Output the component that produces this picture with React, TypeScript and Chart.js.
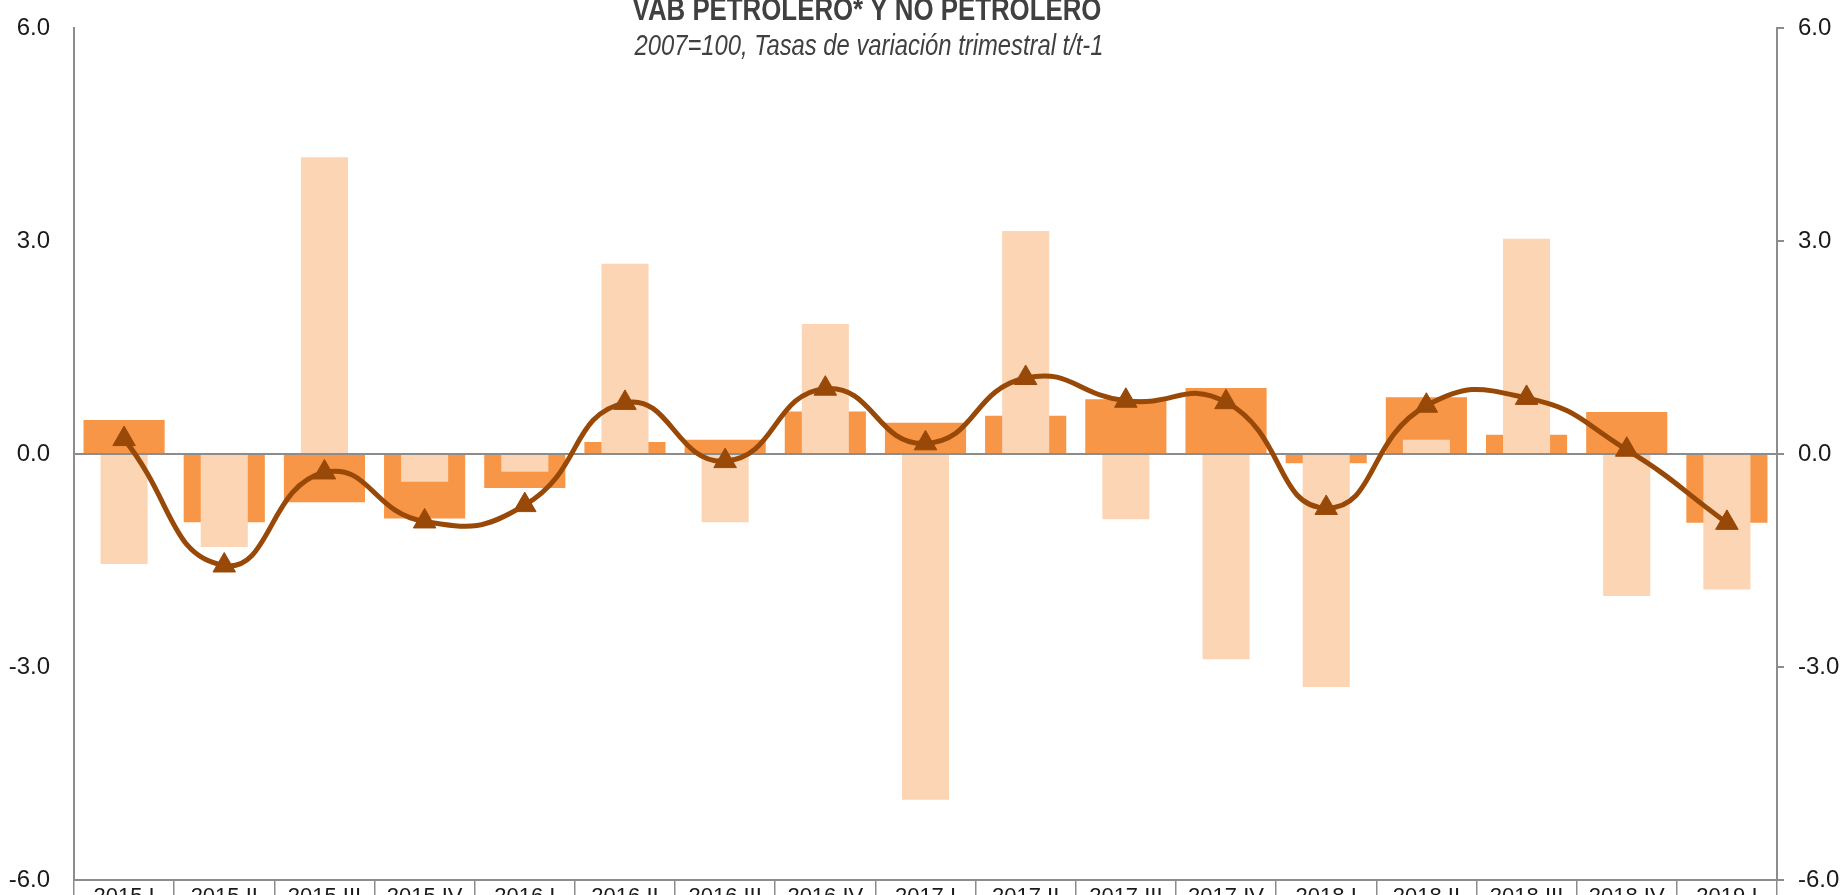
import React, { useEffect, useRef } from "react";
import { Chart, registerables } from "chart.js";

Chart.register(...registerables);

const categories = [
  "2015.I", "2015.II", "2015.III", "2015.IV",
  "2016.I", "2016.II", "2016.III", "2016.IV",
  "2017.I", "2017.II", "2017.III", "2017.IV",
  "2018.I", "2018.II", "2018.III", "2018.IV",
  "2019.I",
];

// VAB no petrolero (wide, dark orange)
const noPetrolero = [0.48, -0.96, -0.68, -0.91, -0.48, 0.17, 0.2, 0.6, 0.44, 0.54, 0.77, 0.93, -0.13, 0.8, 0.27, 0.59, -0.97];
// VAB petrolero (narrow, light)
const petrolero = [-1.55, -1.31, 4.18, -0.39, -0.25, 2.68, -0.96, 1.83, -4.87, 3.14, -0.92, -2.89, -3.28, 0.2, 3.03, -2.0, -1.91];
// VAB total (line)
const total = [0.21, -1.57, -0.26, -0.95, -0.72, 0.72, -0.1, 0.92, 0.15, 1.07, 0.75, 0.73, -0.76, 0.68, 0.79, 0.06, -0.97];

const yMin = -6;
const yMax = 6;
const yStep = 3;

const TITLE = "VAB PETROLERO* Y NO PETROLERO";
const SUBTITLE = "2007=100, Tasas de variación trimestral t/t-1";

const FONT = '"Liberation Sans", Arial, sans-serif';
const TOP_OFFSET = 20;
const CANVAS_W = 1843;
const CANVAS_H = 960;
const AXIS_GRAY = "#8c8c8c";
const TEXT = "#1a1a1a";
const NARROW = 0.82;

const titlePlugin = {
  id: "customTitle",
  afterDraw(chart: any) {
    const ctx = chart.ctx;
    ctx.save();
    ctx.fillStyle = "#404040";
    ctx.textAlign = "center";
    ctx.textBaseline = "alphabetic";
    ctx.save();
    ctx.translate(867, 20 + TOP_OFFSET);
    ctx.scale(NARROW, 1);
    ctx.font = `bold 31.5px ${FONT}`;
    ctx.fillText(TITLE, 0, 0);
    ctx.restore();
    ctx.save();
    ctx.translate(869, 55 + TOP_OFFSET);
    ctx.scale(NARROW, 1);
    ctx.font = `italic 29px ${FONT}`;
    ctx.fillText(SUBTITLE, 0, 0);
    ctx.restore();
    ctx.restore();
  },
};

export default function App() {
  const ref = useRef<HTMLCanvasElement | null>(null);

  useEffect(() => {
    if (!ref.current) return;
    document.body.style.overflow = "hidden";
    const chart = new Chart(ref.current, {
      type: "bar",
      data: {
        labels: categories,
        datasets: [
          {
            type: "line",
            label: "VAB total",
            data: total,
            borderColor: "#984807",
            backgroundColor: "#984807",
            borderWidth: 5,
            tension: 0.5,
            pointStyle: "triangle",
            pointRadius: 13,
            pointHoverRadius: 13,
            pointBackgroundColor: "#984807",
            pointBorderColor: "#984807",
            pointBorderWidth: 1,
            order: 0,
            yAxisID: "y",
          } as any,
          {
            type: "bar",
            label: "VAB petrolero",
            data: petrolero,
            backgroundColor: "#FCD5B5",
            borderWidth: 0,
            grouped: false,
            categoryPercentage: 1,
            barPercentage: 0.47,
            order: 1,
            yAxisID: "y",
          } as any,
          {
            type: "bar",
            label: "VAB no petrolero",
            data: noPetrolero,
            backgroundColor: "#F79646",
            borderWidth: 0,
            grouped: false,
            categoryPercentage: 1,
            barPercentage: 0.81,
            order: 2,
            yAxisID: "y",
          } as any,
        ],
      },
      options: {
        animation: false,
        responsive: false,
        devicePixelRatio: 1,
        layout: { padding: { top: 28 + TOP_OFFSET, left: 0, right: 0, bottom: 0 } },
        plugins: {
          legend: { display: false },
          title: { display: false },
          tooltip: { enabled: false },
        },
        scales: {
          x: {
            type: "category",
            offset: true,
            grid: {
              offset: true,
              drawOnChartArea: false,
              drawTicks: true,
              tickLength: 45,
              color: AXIS_GRAY,
              lineWidth: 1.5,
            },
            border: { display: true, color: AXIS_GRAY, width: 2 },
            ticks: {
              autoSkip: false,
              maxRotation: 0,
              minRotation: 0,
              padding: -41,
              color: TEXT,
              font: { family: FONT, size: 22 },
            },
            afterFit(scale: any) {
              scale.height = CANVAS_H - (880 + TOP_OFFSET);
            },
          },
          y: {
            position: "left",
            min: yMin,
            max: yMax,
            ticks: {
              stepSize: yStep,
              padding: 24,
              color: TEXT,
              font: { family: FONT, size: 24 },
              callback: (v: any) => Number(v).toFixed(1),
            },
            grid: {
              drawOnChartArea: true,
              drawTicks: false,
              color: (c: any) => (c.tick && c.tick.value === 0 ? AXIS_GRAY : "rgba(0,0,0,0)"),
              lineWidth: 2,
            },
            border: { display: true, color: AXIS_GRAY, width: 2 },
            afterFit(scale: any) {
              scale.width = 74;
            },
          },
          y2: {
            position: "right",
            min: yMin,
            max: yMax,
            ticks: {
              stepSize: yStep,
              padding: 14,
              color: TEXT,
              font: { family: FONT, size: 24 },
              callback: (v: any) => Number(v).toFixed(1),
            },
            grid: {
              drawOnChartArea: false,
              drawTicks: true,
              tickLength: 7,
              color: AXIS_GRAY,
              lineWidth: 2,
            },
            border: { display: true, color: AXIS_GRAY, width: 2 },
            afterFit(scale: any) {
              scale.width = CANVAS_W - 1777;
            },
          },
        },
      },
      plugins: [titlePlugin],
    });
    return () => chart.destroy();
  }, []);

  return (
    <div
      style={{
        position: "absolute",
        left: 0,
        top: -TOP_OFFSET,
        width: CANVAS_W,
        height: 895 + TOP_OFFSET,
        overflow: "hidden",
        background: "#ffffff",
      }}
    >
      <canvas ref={ref} width={CANVAS_W} height={CANVAS_H} style={{ width: CANVAS_W, height: CANVAS_H }} />
    </div>
  );
}
